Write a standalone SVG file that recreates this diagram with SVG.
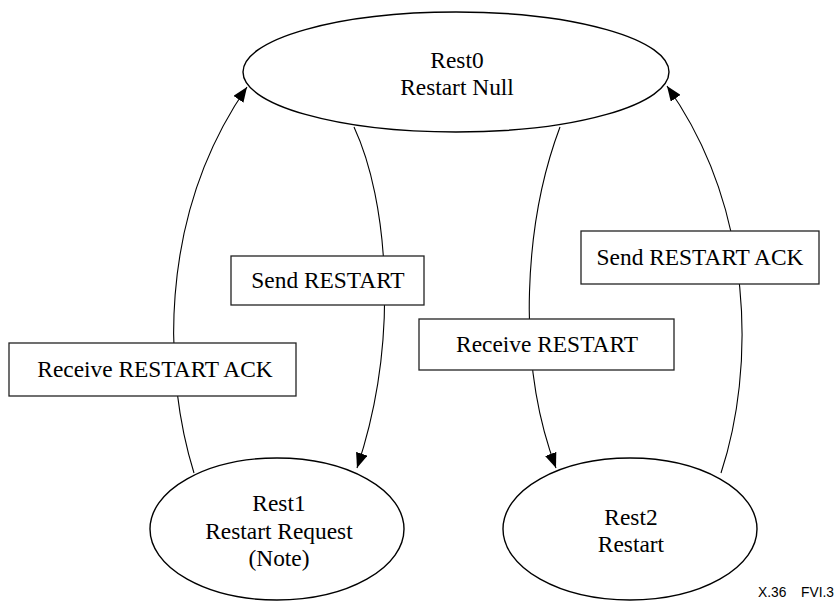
<svg xmlns="http://www.w3.org/2000/svg" width="840" height="605" viewBox="0 0 840 605">
<defs>
<marker id="arr" markerUnits="userSpaceOnUse" markerWidth="16" markerHeight="12" refX="15" refY="6" orient="auto">
<path d="M0,0 L15,6 L0,12 Z" fill="#000"/>
</marker>
<style>
.st{fill:#fff;stroke:#000;stroke-width:1.4}
.lb{fill:#fff;stroke:#222;stroke-width:1.3}
.t{font-family:"Liberation Serif","Times New Roman",serif;font-size:23.4px;fill:#000;text-anchor:middle}
.c{fill:none;stroke:#000;stroke-width:1.1;marker-end:url(#arr)}
.fig{font-family:"Liberation Sans",Arial,sans-serif;font-size:13.8px;fill:#000}
</style>
</defs>
<rect width="840" height="605" fill="#fff"/>
<g id="connectors">
<path class="c" d="M194,473 C165,380 155,220 247,87"/>
<path class="c" d="M354,127 C388,200 400,340 357,468"/>
<path class="c" d="M560,127 C525,220 515,360 556,468"/>
<path class="c" d="M721,473 C755,370 755,210 667,86"/>
</g>
<g id="rest0">
<ellipse class="st" cx="456" cy="72" rx="213" ry="60"/>
<text class="t" x="457" y="68">Rest0</text>
<text class="t" x="457" y="95">Restart Null</text>
</g>
<g id="rest1">
<ellipse class="st" cx="277" cy="529" rx="127" ry="71"/>
<text class="t" x="279" y="511">Rest1</text>
<text class="t" x="279" y="539">Restart Request</text>
<text class="t" x="279" y="566">(Note)</text>
</g>
<g id="rest2">
<ellipse class="st" cx="630" cy="529" rx="127" ry="71"/>
<text class="t" x="631" y="525">Rest2</text>
<text class="t" x="631" y="552">Restart</text>
</g>
<g id="label-send-restart">
<rect class="lb" x="231" y="256" width="193" height="49"/>
<text class="t" x="328" y="288">Send RESTART</text>
</g>
<g id="label-receive-restart-ack">
<rect class="lb" x="9" y="343" width="287" height="53"/>
<text class="t" x="155" y="377">Receive RESTART ACK</text>
</g>
<g id="label-receive-restart">
<rect class="lb" x="419" y="319" width="255" height="51"/>
<text class="t" x="547" y="352">Receive RESTART</text>
</g>
<g id="label-send-restart-ack">
<rect class="lb" x="581" y="231" width="238" height="53"/>
<text class="t" x="700" y="265">Send RESTART ACK</text>
</g>
<text class="fig" x="758" y="597">X.36<tspan x="801">FVI.3</tspan></text>
</svg>
